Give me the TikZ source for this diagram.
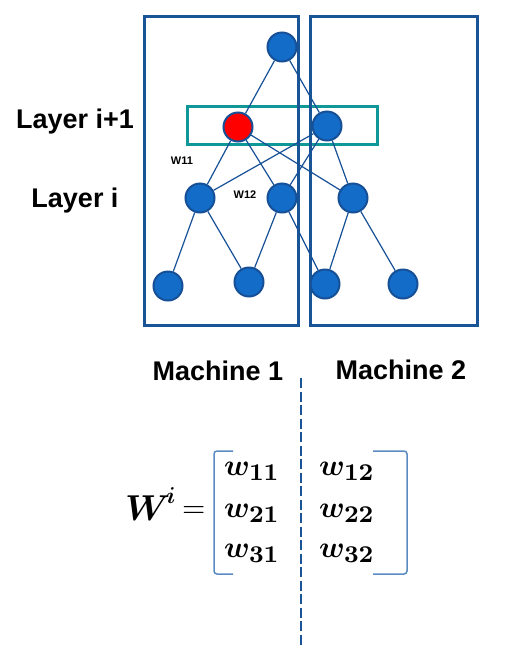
\documentclass[tikz,border=0pt]{standalone}
\usepackage{fontspec}
\usepackage{amsmath,bm,graphicx}
\usetikzlibrary{positioning}
\newfontfamily\labelfont{Liberation Sans}
\definecolor{nodeblue}{RGB}{18,108,200}
\definecolor{rimblue}{RGB}{22,80,150}
\definecolor{boxblue}{RGB}{24,84,150}
\definecolor{tealbox}{RGB}{16,152,152}
\definecolor{bracketblue}{RGB}{90,140,195}
\newcommand*\wentry[1]{\scalebox{3}{$\bm{w}_{\text{\bfseries\fontsize{8}{9}\selectfont #1}}$}}
\tikzset{
    neuron/.style={circle, fill=nodeblue, draw=rimblue, line width=2pt,
        minimum size=29pt, inner sep=0pt},
    active/.style={neuron, fill=red},
    link/.style={draw=rimblue, line width=1.2pt},
    machine/.style={draw=boxblue, line width=3pt},
    layerbox/.style={draw=tealbox, line width=3pt},
    cutline/.style={draw=boxblue, line width=2.5pt, dash pattern=on 10pt off 3.5pt},
    bracket/.style={draw=bracketblue, line width=1.5pt, rounded corners=3pt},
    biglabel/.style={font=\labelfont\bfseries\fontsize{27}{32}\selectfont,
        inner sep=0pt, anchor=base},
    weightlabel/.style={font=\labelfont\bfseries\fontsize{11}{13}\selectfont,
        inner sep=0pt, anchor=base},
    entry/.style={inner sep=0pt, anchor=base},
}
\begin{document}
\begin{tikzpicture}[x=1pt, y=-1pt]
	\useasboundingbox (0,0) rectangle (506,654);
	% layer i+1 and the two machines
	\draw[layerbox] (187,106) rectangle (377,144);
	\draw[machine] (144,16) rectangle (298,325);
	\draw[machine] (310,16) rectangle (477,325);
	% neurons
	\node[neuron] (top) at (282,47) {};
	\node[active] (h1) at (238,127) {};
	\node[neuron] (h2) at (327,126) {};
	\node[neuron] (a1) at (200,198) {};
	\node[neuron] (a2) at (282,198) {};
	\node[neuron] (a3) at (353,198) {};
	\node[neuron] (b1) at (168,286) {};
	\node[neuron] (b2) at (249,282) {};
	\node[neuron] (b3) at (325,284) {};
	\node[neuron] (b4) at (403,284) {};
	\foreach \s/\t in {top/h1, top/h2, h1/a1, h1/a2, h1/a3, h2/a1, h2/a2, h2/a3,
	    a1/b1, a1/b2, a2/b2, a2/b3, a3/b3, a3/b4}
		\draw[link] (\s) -- (\t);
	% labels
	\node[biglabel] (layerup) at (75,128) {Layer i+1};
	\node[biglabel] (layerdown) at (75,207) {Layer i};
	\node[weightlabel] (wone) at (182,164) {W11};
	\node[weightlabel] (wtwo) at (245,198) {W12};
	\node[biglabel] (machone) at (218,380) {Machine 1};
	\node[biglabel] (machtwo) at (401,379) {Machine 2};
	% cut between the machines
	\coordinate (cuttop) at (301,378);
	\coordinate (cutbottom) at (301,645);
	\draw[cutline] (cuttop) -- (cutbottom);
	% weight matrix
	\node[entry, anchor=base west] (wmat) at (125,520) {\scalebox{3.6}{$\bm{W}$}};
	\node[entry, anchor=base west] (wsup) at (166,503) {\scalebox{2.3}{$\bm{i}$}};
	\node[entry, anchor=base west] (eq) at (182,517) {\scalebox{3}{$=$}};
	\draw[bracket] (233,451) -- (214,451) -- (214,574) -- (233,574);
	\draw[bracket] (373,451) -- (407,451) -- (407,574) -- (373,574);
	\node[entry] (w11) at (252,475) {\wentry{11}};
	\node[entry] (w21) at (252,517) {\wentry{21}};
	\node[entry] (w31) at (252,557) {\wentry{31}};
	\node[entry] (w12) at (347,475) {\wentry{12}};
	\node[entry] (w22) at (347,517) {\wentry{22}};
	\node[entry] (w32) at (347,557) {\wentry{32}};
\end{tikzpicture}
\end{document}
